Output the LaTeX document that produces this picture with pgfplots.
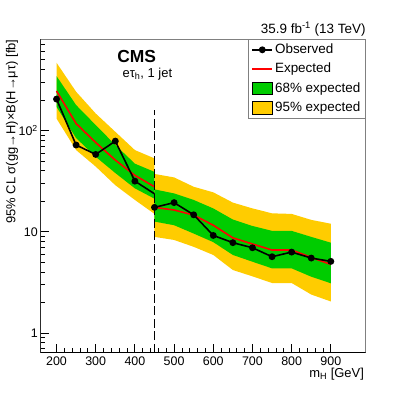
\documentclass[border=0pt]{standalone}
\usepackage{pgfplots}
\pgfplotsset{compat=1.18}
\usepackage{fontspec}
\setmainfont{Liberation Sans}
\definecolor{cmsyellow}{RGB}{255,204,0}
\definecolor{cmsgreen}{RGB}{0,204,0}
\definecolor{cmsred}{RGB}{255,0,0}
\pgfplotsset{
  obslegend/.style={legend image code/.code={\draw[mark repeat=2,mark phase=2,##1] plot coordinates {(0bp,0bp) (10bp,0bp) (20bp,0bp)};}},
  linelegend/.style={legend image code/.code={\draw[##1] (0bp,0bp) -- (20bp,0bp);}},
  boxlegend/.style={legend image code/.code={\draw[##1] (0bp,-6bp) rectangle (20bp,6.5bp);}},
}
\begin{document}
\begin{tikzpicture}
\begin{axis}[
  name=ax,
  scale only axis, width=325.4bp, height=313.4bp,
  ymode=log, xmin=158.6, xmax=989, ymin=0.64, ymax=794,
  xtick={200,300,400,500,600,700,800,900},
  xticklabels={200,300,400,500,600,700,800,900},
  minor x tick num=4,
  ytick={1,10,100}, yticklabels={1,10,10\textsuperscript{2}},
  minor ytick={0.7,0.8,0.9,2,3,4,5,6,7,8,9,20,30,40,50,60,70,80,90,200,300,400,500,600,700},
  xtick pos=bottom, ytick pos=left,
  tick align=inside,
  major tick length=9bp, minor tick length=4.5bp,
  every tick/.style={black, line width=0.8bp},
  axis line style={draw=black!50, line width=0.8bp},
  ticklabel style={font=\fontsize{12.5}{14}\selectfont},
  xticklabel style={yshift=-1bp},
  yticklabel style={xshift=1bp},
  xlabel={m\textsubscript{H} [GeV]},
  xlabel style={font=\fontsize{13}{15}\selectfont, at={(rel axis cs:0.995,-0.078)}, anchor=base east, inner sep=0pt},
  ylabel={95\% CL σ(gg→H)×B(H→μτ) [fb]},
  ylabel style={font=\fontsize{13}{15}\selectfont, at={(rel axis cs:-0.0676,1)}, anchor=south east, inner sep=0pt},
  legend style={at={(rel axis cs:1,1)}, anchor=north east, draw=black!50, line width=0.8bp,
    font=\fontsize{13.5}{15}\selectfont, row sep=3.3bp, inner xsep=3bp, inner ysep=2bp,
    nodes={inner sep=2bp, text height=9.5bp, text depth=2.7bp}},
  legend cell align=left,
]
% 95% band
\addplot[fill=cmsyellow, draw=none, forget plot] coordinates {
 (200,466) (250,241) (300,147) (350,97) (400,64) (450,53)
 (450,15.0) (400,20.6) (350,28.8) (300,44) (250,64) (200,131)} -- cycle;
\addplot[fill=cmsyellow, draw=none, forget plot] coordinates {
 (450,37.2) (500,34.4) (550,27.8) (600,24.5) (650,19.4) (700,17.0) (750,15.2) (800,15.0) (850,13.1) (900,12.0)
 (900,2.05) (850,2.4) (800,3.12) (750,3.12) (700,3.63) (650,4.19) (600,5.9) (550,7.1) (500,8.3) (450,8.9)} -- cycle;
% 68% band
\addplot[fill=cmsgreen, draw=none, forget plot] coordinates {
 (200,344) (250,178) (300,113) (350,72) (400,47) (450,39)
 (450,21.2) (400,26.8) (350,38) (300,55) (250,84) (200,171)} -- cycle;
\addplot[fill=cmsgreen, draw=none, forget plot] coordinates {
 (450,26.2) (500,23.9) (550,20.6) (600,17.0) (650,13.2) (700,11.4) (750,10.2) (800,10.2) (850,8.9) (900,7.8)
 (900,3.1) (850,3.6) (800,4.35) (750,4.35) (700,5.06) (650,5.9) (600,7.9) (550,9.6) (500,11.6) (450,12.6)} -- cycle;
% expected
\addplot[cmsred, line width=1.6bp, forget plot] coordinates {
 (200,245) (250,117) (300,76) (350,51) (400,36) (450,27.8)};
\addplot[cmsred, line width=1.6bp, forget plot] coordinates {
 (450,17.4) (500,16.4) (550,14.6) (600,11.6) (650,8.7) (700,7.57) (750,6.6) (800,6.6) (850,5.58) (900,4.76)};
% observed
\addplot[black, line width=1.6bp, mark=*, mark size=2.6bp, mark indices={1,2,3,4,5}, forget plot] coordinates {
 (200,204) (250,71.8) (300,58) (350,78.5) (400,31.6) (450,23.7)};
\addplot[black, line width=1.6bp, mark=*, mark size=2.6bp, forget plot] coordinates {
 (450,17.4) (500,19.4) (550,14.7) (600,9.2) (650,7.8) (700,6.95) (750,5.67) (800,6.3) (850,5.5) (900,5.1)};
% boundary
\addplot[black, line width=1.6bp, dash pattern=on 9bp off 3.5bp, forget plot] coordinates {(450,0.64) (450,159)};
% black left/bottom axis lines
\draw[black, line width=0.8bp] (rel axis cs:0,1) -- (rel axis cs:0,0) -- (rel axis cs:1,0);
% legend
\addlegendimage{black, line width=1.6bp, mark=*, mark size=2.6bp, obslegend}
\addlegendentry{Observed}
\addlegendimage{cmsred, line width=1.6bp, linelegend}
\addlegendentry{Expected}
\addlegendimage{fill=cmsgreen, draw=black, line width=0.6bp, boxlegend}
\addlegendentry{68\% expected}
\addlegendimage{fill=cmsyellow, draw=black, line width=0.6bp, boxlegend}
\addlegendentry{95\% expected}
% texts
\node[font=\bfseries\fontsize{17.5}{20}\selectfont, inner sep=0pt] at (rel axis cs:0.296,0.944) {CMS};
\node[font=\fontsize{13}{15}\selectfont, inner sep=0pt] at (rel axis cs:0.329,0.889) {eτ\textsubscript{h}, 1 jet};
\end{axis}
\node[font=\fontsize{13.5}{15}\selectfont, anchor=base east, inner sep=0pt] at ([yshift=6bp]ax.north east) {35.9 fb\textsuperscript{-1} (13 TeV)};
\pgfresetboundingbox
\path (ax.south west) ++(-40.3bp,-40.3bp) rectangle ++(407bp,393bp);
\end{tikzpicture}
\end{document}
